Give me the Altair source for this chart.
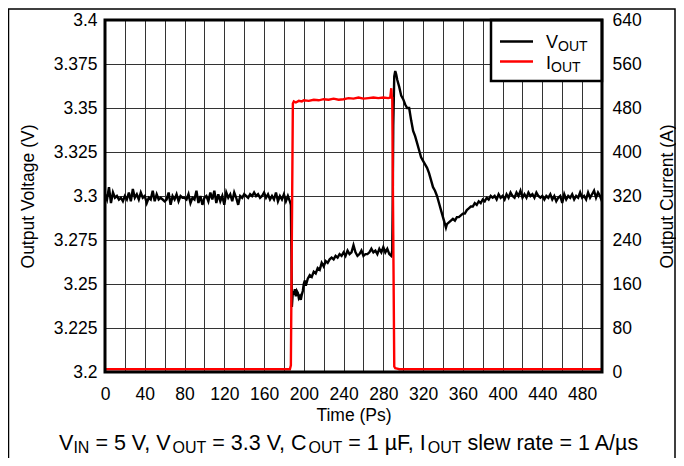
import altair as alt
import pandas as pd

# ---------------- data ----------------
# Output voltage (V) vs time
v_time_a = list(range(0, 188, 2))
v_a = [3.301, 3.298, 3.305, 3.296, 3.302, 3.299, 3.300, 3.298, 3.299, 3.297,
       3.300, 3.298, 3.302, 3.297, 3.304, 3.299, 3.301, 3.298, 3.302, 3.299,
       3.300, 3.296, 3.299, 3.298, 3.303, 3.297, 3.301, 3.298, 3.299, 3.298,
       3.297, 3.298, 3.302, 3.295, 3.300, 3.298, 3.301, 3.297, 3.300, 3.299,
       3.299, 3.298, 3.301, 3.296, 3.299, 3.298, 3.303, 3.296, 3.300, 3.295,
       3.299, 3.300, 3.297, 3.302, 3.298, 3.303, 3.296, 3.301, 3.297, 3.300,
       3.295, 3.302, 3.299, 3.301, 3.297, 3.302, 3.299, 3.295, 3.300, 3.299,
       3.301, 3.300, 3.299, 3.301, 3.300, 3.302, 3.300, 3.301, 3.299, 3.300,
       3.302, 3.299, 3.301, 3.298, 3.300, 3.298, 3.302, 3.297, 3.300, 3.298,
       3.301, 3.297, 3.300, 3.297]

v_time_b1 = [187, 187.5, 188, 189, 190, 191, 192, 193, 194, 195, 196, 197, 198, 199,
             200, 201, 202, 203, 204]
v_b1 = [3.295, 3.270, 3.237, 3.246, 3.244, 3.247, 3.243, 3.246, 3.245, 3.242, 3.243,
        3.241, 3.244, 3.246, 3.250, 3.252, 3.249, 3.251, 3.253]

v_time_b2 = list(range(206, 290, 2))
v_b2 = [3.255, 3.254, 3.257, 3.256, 3.259, 3.258, 3.262, 3.260, 3.263, 3.262,
        3.264, 3.265, 3.264, 3.266, 3.265, 3.267, 3.266, 3.268, 3.266, 3.269,
        3.267, 3.268, 3.272, 3.268, 3.266, 3.267, 3.269, 3.266, 3.267, 3.267,
        3.268, 3.270, 3.268, 3.269, 3.267, 3.270, 3.268, 3.271, 3.268, 3.270,
        3.267, 3.266]

v_time_b3 = [289, 289.5, 290, 291, 292, 293, 294]
v_b3 = [3.269, 3.300, 3.340, 3.368, 3.371, 3.369, 3.366]

v_time_b4 = list(range(296, 344, 2))
v_b4 = [3.362, 3.357, 3.355, 3.352, 3.350, 3.350, 3.343, 3.337, 3.334, 3.330,
        3.326, 3.322, 3.320, 3.318, 3.316, 3.313, 3.309, 3.305, 3.303, 3.300,
        3.296, 3.292, 3.288, 3.284]

v_time_b5 = [343, 344] + list(range(346, 392, 2))
v_b5 = [3.282, 3.284,
        3.285, 3.286, 3.287, 3.286, 3.288, 3.288, 3.289, 3.290, 3.290, 3.292,
        3.293, 3.294, 3.294, 3.296, 3.295, 3.297, 3.296, 3.298, 3.297, 3.299,
        3.298, 3.300, 3.299]

v_time_c = list(range(392, 502, 2))
v_c = [3.300, 3.298, 3.301, 3.299, 3.300, 3.298, 3.301, 3.299, 3.302, 3.300,
       3.299, 3.302, 3.300, 3.303, 3.299, 3.301, 3.299, 3.302, 3.300, 3.301,
       3.299, 3.302, 3.300, 3.299, 3.300, 3.298, 3.300, 3.299, 3.301, 3.298,
       3.300, 3.297, 3.299, 3.300, 3.296, 3.301, 3.298, 3.300, 3.299, 3.301,
       3.298, 3.300, 3.299, 3.302, 3.299, 3.300, 3.298, 3.302, 3.299, 3.301,
       3.303, 3.299, 3.302, 3.300, 3.297]

# Output current (A) vs time
i_time = [0, 186, 187, 188, 189, 190, 192, 195, 198, 200, 205, 210, 215, 220, 225,
          230, 235, 240, 245, 250, 255, 260, 265, 270, 275, 280, 285, 287, 288, 288.5,
          289, 290, 291, 292, 294, 296, 500]
i_vals = [5, 5, 12, 250, 488, 492, 490, 493, 492, 494, 493, 495, 494, 496, 495,
          497, 495, 496, 498, 497, 499, 497, 498, 499, 498, 499, 498, 499, 516, 500,
          499, 250, 10, 7, 6, 5, 5]

x_ticks = list(range(0, 501, 20))
v_ticks = [3.2, 3.225, 3.25, 3.275, 3.3, 3.325, 3.35, 3.375, 3.4]
i_ticks = [0, 80, 160, 240, 320, 400, 480, 560, 640]

v_time = v_time_a + v_time_b1 + v_time_b2 + v_time_b3 + v_time_b4 + v_time_b5 + v_time_c
v_vals = v_a + v_b1 + v_b2 + v_b3 + v_b4 + v_b5 + v_c

volt_df = pd.DataFrame({"t": v_time, "v": v_vals})
cur_df = pd.DataFrame({"t": i_time, "i": i_vals})
one = pd.DataFrame({"d": [0]})

FONT = "Liberation Sans"
W, H = 497, 352
LBL = 17.5
TTL = 17.5

common_axis = dict(labelFont=FONT, titleFont=FONT, labelColor="black", titleColor="black",
                   labelFontSize=LBL, titleFontSize=TTL, titleFontWeight="normal",
                   domain=False, ticks=False)

x_enc = alt.X("t:Q", scale=alt.Scale(domain=[0, 500], nice=False, zero=False),
              axis=alt.Axis(values=x_ticks,
                            labelExpr="datum.value % 40 == 0 ? datum.label : ''",
                            labelOverlap=False, labelFlush=False, labelPadding=13,
                            title="Time (Ps)", titleY=43, titleBaseline="middle",
                            grid=True, gridColor="#333333", gridWidth=1, **common_axis))

volt = alt.Chart(volt_df).mark_line(color="black", strokeWidth=2.4).encode(
    x=x_enc,
    y=alt.Y("v:Q", scale=alt.Scale(domain=[3.2, 3.4], nice=False, zero=False),
            axis=alt.Axis(values=v_ticks, format=".3~f", labelPadding=8,
                          title="Output Voltage (V)", titleAngle=270, titleX=-77,
                          titleY=H / 2, titleAlign="center", titleBaseline="middle",
                          grid=True, gridColor="#333333", gridWidth=1, **common_axis)),
)

cur = alt.Chart(cur_df).mark_line(color="#ff0000", strokeWidth=2.4).encode(
    x=x_enc,
    y=alt.Y("i:Q", scale=alt.Scale(domain=[0, 640], nice=False),
            axis=alt.Axis(orient="right", values=i_ticks, labelPadding=10,
                          title="Output Current (A)", titleAngle=270, titleX=65,
                          titleY=H / 2, titleAlign="center", titleBaseline="middle",
                          grid=False, **common_axis)),
)

lines = alt.layer(volt, cur).resolve_scale(y="independent")

# legend box and frame
deco = []
deco.append(alt.Chart(one).mark_rect(fill="white", stroke="black", strokeWidth=2.5).encode(
    x=alt.value(386), x2=alt.value(W), y=alt.value(0), y2=alt.value(61)))
deco.append(alt.Chart(one).mark_rule(color="black", strokeWidth=2.4).encode(
    x=alt.value(395), x2=alt.value(428), y=alt.value(21.5)))
deco.append(alt.Chart(one).mark_rule(color="#ff0000", strokeWidth=2.4).encode(
    x=alt.value(395), x2=alt.value(428), y=alt.value(41.5)))

# text width table (Arial metrics, per 1000 em)
AW = {" ": 278, "=": 584, ",": 278, ".": 278, "/": 278, "A": 667, "C": 722, "F": 611,
      "I": 278, "N": 722, "O": 778, "T": 611, "U": 722, "V": 667, "a": 556, "e": 556,
      "l": 222, "r": 333, "s": 500, "t": 278, "w": 722, "µ": 556}


def tw(s, size):
    return sum(AW.get(c, 556) for c in s) * size / 1000.0


def rich(segs, x0, base, main, sub, suboff, color="black"):
    out = []
    x = x0
    for s, is_sub in segs:
        size = sub if is_sub else main
        lead = len(s) - len(s.lstrip(" "))
        txt = s.strip(" ")
        xx = x + tw(" " * lead, size)
        if txt:
            out.append(alt.Chart(one).mark_text(
                align="left", baseline="alphabetic", font=FONT, fontSize=size,
                color=color).encode(x=alt.value(xx),
                                    y=alt.value(base + (suboff if is_sub else 0)),
                                    text=alt.value(txt)))
        x += tw(s, size)
    return out


def rich_width(segs, main, sub):
    return sum(tw(s, sub if b else main) for s, b in segs)


# legend texts
deco += rich([("V", 0), ("OUT", 1)], 441, 28, 18, 14, 2.5)
deco += rich([("I", 0), ("OUT", 1)], 441, 49, 18, 14, 2.5)

# frame
deco.append(alt.Chart(one).mark_rect(fillOpacity=0, stroke="black", strokeWidth=3).encode(
    x=alt.value(0), x2=alt.value(W), y=alt.value(0), y2=alt.value(H)))

# caption
cap = [("V", 0), ("IN", 1), (" = 5 V, V", 0), ("OUT", 1), (" = 3.3 V, C", 0), ("OUT", 1),
       (" = 1 µF, I", 0), ("OUT", 1), (" slew rate = 1 A/µs", 0)]
CM, CS = 21.5, 16
cw = rich_width(cap, CM, CS)
deco += rich(cap, 244 - cw / 2, 430, CM, CS, 3)

# outer border
deco.append(alt.Chart(one).mark_rect(fillOpacity=0, stroke="black", strokeWidth=1.5).encode(
    x=alt.value(-96.5), x2=alt.value(570), y=alt.value(-11), y2=alt.value(480)))

chart = alt.layer(lines, *deco).properties(
    width=W, height=H,
    autosize=alt.AutoSizeParams(type="none"),
    padding={"left": 97, "top": 12, "right": 74, "bottom": 86},
).configure_view(strokeWidth=0)

chart.save("out.html", embed_options={"renderer": "svg", "actions": False})
